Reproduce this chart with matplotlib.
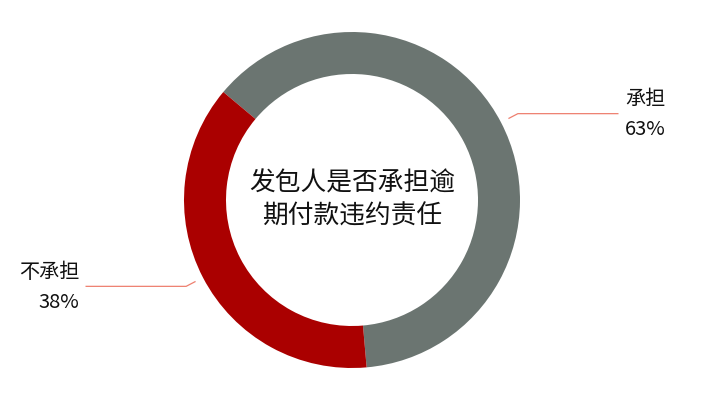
import numpy as np
import matplotlib.pyplot as plt

plt.rcParams['font.family'] = ['Noto Sans CJK SC', 'DejaVu Sans']

# data
categories = ['承担', '不承担']
values = [62.5, 37.5]
pct_labels = ['63%', '38%']
colors = ['#6b7571', '#aa0000']
center_title = '发包人是否承担逾\n期付款违约责任'

W, H = 705, 407
fig = plt.figure(figsize=(W / 100, H / 100), dpi=100)
ax = fig.add_axes([0, 0, 1, 1])

cx, cy = 352, H - 200
R, ring = 168, 42
start = 140

wedges, _ = ax.pie(values, colors=colors, startangle=start, counterclock=False,
                   radius=R, center=(cx, cy), frame=True,
                   wedgeprops=dict(width=ring, linewidth=0))
ax.set_xlim(0, W)
ax.set_ylim(0, H)
ax.set_aspect('equal')
ax.axis('off')

# label lines
for w, name, pct in zip(wedges, categories, pct_labels):
    mid = np.deg2rad((w.theta1 + w.theta2) / 2)
    x0, y0 = cx + (R + 9) * np.cos(mid), cy + (R + 9) * np.sin(mid)
    x1, y1 = cx + (R + 19) * np.cos(mid), cy + (R + 19) * np.sin(mid)
    right = np.cos(mid) > 0
    x2 = x1 + 100 if right else x1 - 100
    ax.plot([x0, x1, x2], [y0, y1, y1], color='#ee8070', lw=0.9)
    tx = x2 + 7 if right else x2 - 7
    ha = 'left' if right else 'right'
    ax.text(tx, y1 + 14, name, ha=ha, va='center', fontsize=14.5,
            color='#111111')
    ax.text(tx, y1 - 16, pct, ha=ha, va='center', fontsize=14.5,
            color='#111111')

ax.text(cx, cy, center_title, ha='center', va='center', fontsize=18.5,
        color='#111111', linespacing=1.38)

fig.savefig('out.png', dpi=100)
